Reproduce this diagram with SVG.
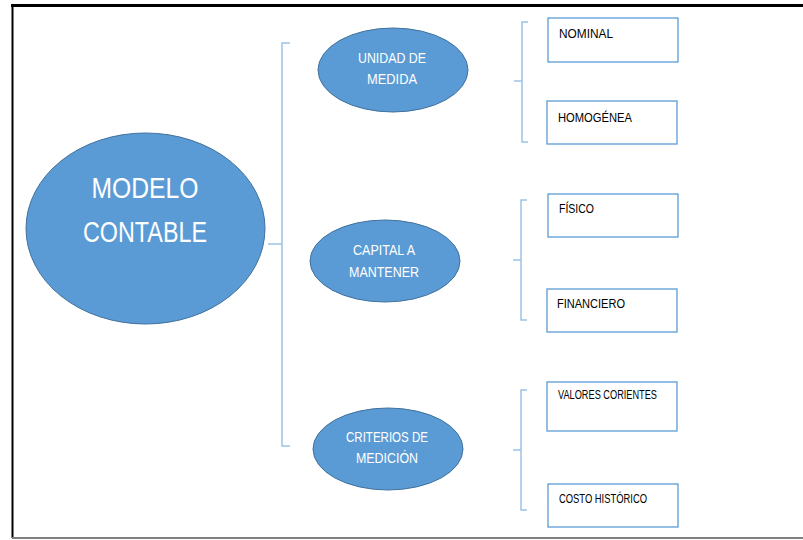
<svg xmlns="http://www.w3.org/2000/svg" width="803" height="540" viewBox="0 0 803 540">
<style>
.ell{fill:#5B9BD5;stroke:#41719C;stroke-width:1}
.box{fill:#FFFFFF;stroke:#5B9BD5;stroke-width:1.3}
.conn{fill:none;stroke:#9DC3E6;stroke-width:1.5}
.et{font-family:"Liberation Sans",Arial,sans-serif;font-size:14px;fill:#FFFFFF;text-anchor:middle}
.mt{font-family:"Liberation Sans",Arial,sans-serif;font-size:30px;fill:#FFFFFF;text-anchor:middle}
.bt{font-family:"Liberation Sans",Arial,sans-serif;font-size:12px;fill:#000000}
</style>
<rect x="0" y="0" width="803" height="540" fill="#FFFFFF"/>
<g id="frame">
<line x1="11" y1="5.5" x2="803" y2="5.5" stroke="#000000" stroke-width="3"/>
<line x1="12.5" y1="4" x2="12.5" y2="538" stroke="#000000" stroke-width="2"/>
<line x1="12" y1="538" x2="803" y2="538" stroke="#808080" stroke-width="2"/>
</g>
<g id="connectors">
<path class="conn" d="M268 244 H282 M290 43 H282 V446 H290"/>
<path class="conn" d="M514 81 H522 M528 22 H522 V142 H528"/>
<path class="conn" d="M513 260 H521 M527 200 H521 V320 H527"/>
<path class="conn" d="M513 450 H521 M527 390 H521 V510 H527"/>
</g>
<g id="modelo-contable">
<ellipse class="ell" cx="145.5" cy="228.5" rx="119.5" ry="95.5"/>
<text class="mt" x="145" y="198" textLength="107" lengthAdjust="spacingAndGlyphs">MODELO</text>
<text class="mt" x="145" y="242" textLength="124" lengthAdjust="spacingAndGlyphs">CONTABLE</text>
</g>
<g id="unidad-de-medida">
<ellipse class="ell" cx="393" cy="70" rx="75" ry="42"/>
<text class="et" x="392" y="63" textLength="68" lengthAdjust="spacingAndGlyphs">UNIDAD DE</text>
<text class="et" x="392" y="84" textLength="50" lengthAdjust="spacingAndGlyphs">MEDIDA</text>
</g>
<g id="capital-a-mantener">
<ellipse class="ell" cx="385" cy="261" rx="75" ry="41"/>
<text class="et" x="384" y="255" textLength="62" lengthAdjust="spacingAndGlyphs">CAPITAL A</text>
<text class="et" x="384" y="277" textLength="70" lengthAdjust="spacingAndGlyphs">MANTENER</text>
</g>
<g id="criterios-de-medicion">
<ellipse class="ell" cx="388" cy="449" rx="75" ry="41"/>
<text class="et" x="387" y="442" textLength="82" lengthAdjust="spacingAndGlyphs">CRITERIOS DE</text>
<text class="et" x="387" y="463" textLength="62" lengthAdjust="spacingAndGlyphs">MEDICIÓN</text>
</g>
<g id="nominal">
<rect class="box" x="548" y="18" width="130" height="44"/>
<text class="bt" x="559" y="38" textLength="54" lengthAdjust="spacingAndGlyphs">NOMINAL</text>
</g>
<g id="homogenea">
<rect class="box" x="547" y="101" width="130" height="43"/>
<text class="bt" x="558" y="122" textLength="74" lengthAdjust="spacingAndGlyphs">HOMOGÉNEA</text>
</g>
<g id="fisico">
<rect class="box" x="548" y="194" width="130" height="43"/>
<text class="bt" x="559" y="213" textLength="35" lengthAdjust="spacingAndGlyphs">FÍSICO</text>
</g>
<g id="financiero">
<rect class="box" x="547" y="289" width="130" height="43"/>
<text class="bt" x="557" y="308" textLength="68" lengthAdjust="spacingAndGlyphs">FINANCIERO</text>
</g>
<g id="valores-corientes">
<rect class="box" x="547" y="382" width="130" height="49"/>
<text class="bt" x="558" y="399" textLength="99" lengthAdjust="spacingAndGlyphs">VALORES CORIENTES</text>
</g>
<g id="costo-historico">
<rect class="box" x="548" y="484" width="130" height="43"/>
<text class="bt" x="559" y="503" textLength="88" lengthAdjust="spacingAndGlyphs">COSTO HISTÓRICO</text>
</g>
</svg>
